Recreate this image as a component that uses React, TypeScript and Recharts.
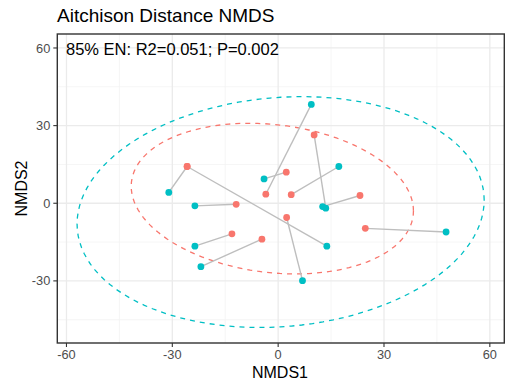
import React from 'react';
import { ScatterChart, Scatter, XAxis, YAxis, CartesianGrid } from 'recharts';

// paired samples: teal point i is joined to red point i
const tealX = [9.4, 13.5, 12.6, -31.0, 13.8, -4.0, 17.2, -23.6, 6.9, 47.6, -23.6, -21.9];
const tealY = [38.2, -1.9, -1.3, 4.2, -16.6, 9.4, 14.2, -1.0, -29.9, -11.1, -16.6, -24.5];
const redX = [-3.5, 10.2, 23.2, -25.8, -25.8, 2.3, 3.7, -11.9, 2.4, 24.7, -13.1, -4.6];
const redY = [3.5, 26.4, 3.0, 14.2, 14.2, 12.0, 3.3, -0.4, -5.5, -9.7, -11.8, -13.9];

const xTicks = [-60, -30, 0, 30, 60];
const yTicks = [-30, 0, 30, 60];
const xMinor = [-45, -15, 15, 45];
const yMinor = [-45, -15, 15, 45];

// stat_ellipse shapes (centre + covariance)
const redEllipse = { cx: -1.65, cy: 1.8, sxx: 1600, sxy: -190, syy: 847 };
const tealEllipse = { cx: 0.7, cy: -3.4, sxx: 3329, sxy: 265, syy: 1989 };

const RED = '#F8766D';
const TEAL = '#00BFC4';
const FONT = '"Liberation Sans", Arial, sans-serif';

// panel box (pixels), used for the chart margins and the border
const PANEL = { left: 57.3, top: 34, right: 504.3, bottom: 343 };

const ellipsePoints = (e: typeof redEllipse, n = 120) => {
  const sx = Math.sqrt(e.sxx);
  const k = e.sxy / sx;
  const sy = Math.sqrt(e.syy - k * k);
  return Array.from({ length: n + 1 }, (_, i) => {
    const t = (2 * Math.PI * i) / n;
    return { x: e.cx + sx * Math.cos(t), y: e.cy + k * Math.cos(t) + sy * Math.sin(t) };
  });
};

const tealPts = tealX.map((x, i) => ({ x, y: tealY[i] }));
const redPts = redX.map((x, i) => ({ x, y: redY[i] }));
const pairs = tealPts.map((p, i) => [p, redPts[i]]);

const dot = (color: string) => (props: any) => (
  <circle cx={props.cx} cy={props.cy} r={3.4} fill={color} />
);
const noShape = () => <g />;

const tickStyle = { fill: '#4D4D4D', fontSize: 12.8, fontFamily: FONT };

const App: React.FC = () => {
  return (
    <div style={{ position: 'absolute', left: 0, top: 0, width: 506, height: 390, background: '#fff' }}>
      <ScatterChart
        width={506}
        height={390}
        margin={{ top: PANEL.top, right: 506 - PANEL.right, left: 0, bottom: 0 }}
      >
        <CartesianGrid stroke="#F3F3F3" strokeWidth={0.8} verticalValues={xMinor} horizontalValues={yMinor} />
        <CartesianGrid stroke="#EBEBEB" strokeWidth={1.3} verticalValues={xTicks} horizontalValues={yTicks} />
        <XAxis
          type="number"
          dataKey="x"
          domain={[-62.6, 64.1]}
          ticks={xTicks}
          allowDataOverflow
          height={390 - PANEL.bottom}
          tickSize={4}
          tickMargin={3}
          tick={tickStyle}
          axisLine={false}
          tickLine={{ stroke: '#333333', strokeWidth: 1.1 }}
        />
        <YAxis
          type="number"
          dataKey="y"
          domain={[-54, 65.4]}
          ticks={yTicks}
          allowDataOverflow
          width={PANEL.left}
          tickSize={4}
          tickMargin={3}
          tick={tickStyle}
          axisLine={false}
          tickLine={{ stroke: '#333333', strokeWidth: 1.1 }}
        />
        <Scatter
          data={ellipsePoints(tealEllipse)}
          line={{ stroke: TEAL, strokeWidth: 1.3, strokeDasharray: '5 5', fill: 'none' }}
          shape={noShape}
          isAnimationActive={false}
        />
        <Scatter
          data={ellipsePoints(redEllipse)}
          line={{ stroke: RED, strokeWidth: 1.3, strokeDasharray: '5 5', fill: 'none' }}
          shape={noShape}
          isAnimationActive={false}
        />
        {pairs.map((pair, i) => (
          <Scatter
            key={`pair-${i}`}
            data={pair}
            line={{ stroke: '#BEBEBE', strokeWidth: 1.4, fill: 'none' }}
            shape={noShape}
            isAnimationActive={false}
          />
        ))}
        <Scatter data={redPts} shape={dot(RED)} isAnimationActive={false} />
        <Scatter data={tealPts} shape={dot(TEAL)} isAnimationActive={false} />
      </ScatterChart>
      <svg
        width={506}
        height={390}
        style={{ position: 'absolute', left: 0, top: 0, pointerEvents: 'none' }}
        fontFamily={FONT}
      >
        <rect
          x={PANEL.left}
          y={PANEL.top}
          width={PANEL.right - PANEL.left}
          height={PANEL.bottom - PANEL.top}
          fill="none"
          stroke="#333333"
          strokeWidth={1.4}
        />
        <text x={57} y={22} fontSize={19} fill="#000">Aitchison Distance NMDS</text>
        <text x={66} y={54.5} fontSize={16.5} fill="#000">85% EN: R2=0.051; P=0.002</text>
        <text x={280} y={378} fontSize={16} fill="#000" textAnchor="middle">NMDS1</text>
        <text transform="translate(27,188.5) rotate(-90)" fontSize={16} fill="#000" textAnchor="middle">
          NMDS2
        </text>
      </svg>
    </div>
  );
};

export default App;
